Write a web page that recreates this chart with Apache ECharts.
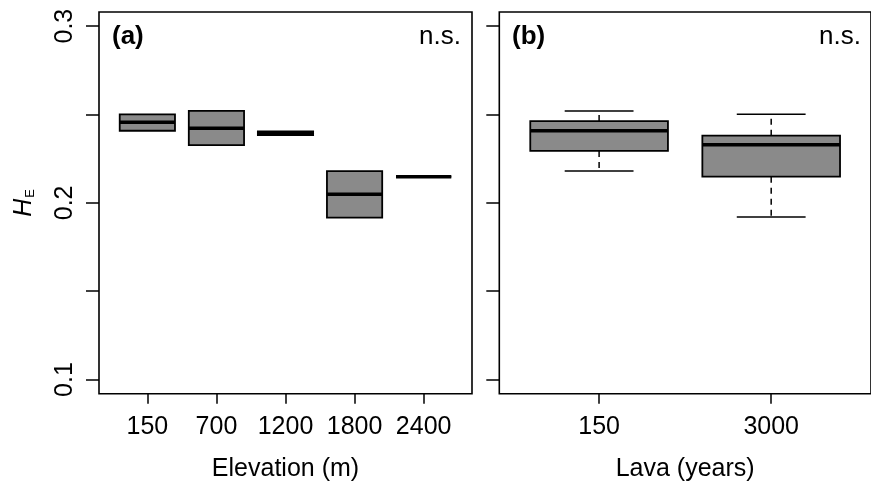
<!DOCTYPE html>
<html>
<head>
<meta charset="utf-8">
<script src="https://cdn.jsdelivr.net/npm/echarts@6/dist/echarts.min.js"></script>
<style>html,body{margin:0;padding:0;background:#fff}#c{width:871px;height:489px}</style>
</head>
<body>
<div id="c"></div>
<script>
// ---- data ----
const yTickValues = [0.1, 0.15, 0.2, 0.25, 0.3];
const yLabelValues = [0.1, 0.2, 0.3];

const elevCats = ['150', '700', '1200', '1800', '2400'];
const elevLow  = [0.2408, 0.2327, 0.2383, 0.1916, 0.2148];
const elevQ1   = [0.2408, 0.2327, 0.2383, 0.1916, 0.2148];
const elevMed  = [0.2456, 0.2422, 0.2394, 0.2048, 0.2148];
const elevQ3   = [0.2501, 0.2520, 0.2405, 0.2180, 0.2148];
const elevHigh = [0.2501, 0.2520, 0.2405, 0.2180, 0.2148];

const lavaCats = ['150', '3000'];
const lavaLow  = [0.2180, 0.1920];
const lavaQ1   = [0.2294, 0.2148];
const lavaMed  = [0.2408, 0.2329];
const lavaQ3   = [0.2463, 0.2380];
const lavaHigh = [0.2520, 0.2501];

// ---- build ----
function rows(low, q1, med, q3, high) {
  return low.map((v, i) => [i + 1, low[i], q1[i], med[i], q3[i], high[i]]);
}

function renderBox(params, api) {
  const x = api.value(0);
  const low = api.value(1), q1 = api.value(2), med = api.value(3), q3 = api.value(4), high = api.value(5);
  const w = api.size([0.8, 0])[0];
  const sw = w / 2;
  const c = api.coord([x, med]);
  const cx = c[0];
  const yL = api.coord([x, low])[1], y1 = api.coord([x, q1])[1], yM = c[1],
        y3 = api.coord([x, q3])[1], yH = api.coord([x, high])[1];
  const children = [];
  const dash = { stroke: '#000', lineWidth: 1.5, lineDash: [6, 5] };
  const solid = { stroke: '#000', lineWidth: 1.5 };
  if (high > q3) {
    children.push({ type: 'line', shape: { x1: cx, y1: y3, x2: cx, y2: yH }, style: dash });
    children.push({ type: 'line', shape: { x1: cx - sw / 2, y1: yH, x2: cx + sw / 2, y2: yH }, style: solid });
  }
  if (low < q1) {
    children.push({ type: 'line', shape: { x1: cx, y1: y1, x2: cx, y2: yL }, style: dash });
    children.push({ type: 'line', shape: { x1: cx - sw / 2, y1: yL, x2: cx + sw / 2, y2: yL }, style: solid });
  }
  children.push({ type: 'rect', shape: { x: cx - w / 2, y: y3, width: w, height: y1 - y3 },
    style: { fill: '#8a8a8a', stroke: '#000', lineWidth: 1.8 } });
  children.push({ type: 'line', shape: { x1: cx - w / 2, y1: yM, x2: cx + w / 2, y2: yM },
    style: { stroke: '#000', lineWidth: 3.5 } });
  return { type: 'group', children };
}

const FONT = 'Liberation Sans, Arial, Helvetica, sans-serif';
const FS = 25;

function xAxisFor(idx, cats, min, max, name) {
  const vals = cats.map((c, i) => i + 1);
  return {
    type: 'value', gridIndex: idx, min: min, max: max,
    splitLine: { show: false },
    axisLine: { show: false },
    axisTick: { show: true, length: 10, lineStyle: { color: '#000', width: 1.5 }, customValues: vals },
    axisLabel: { show: true, customValues: vals, margin: 21, color: '#000', fontSize: FS, fontFamily: FONT,
      formatter: v => cats[Math.round(v) - 1] },
    name: name, nameLocation: 'middle', nameGap: 63,
    nameTextStyle: { color: '#000', fontSize: FS, fontFamily: FONT }
  };
}

function yAxisFor(idx, showLabels) {
  const ax = {
    type: 'value', gridIndex: idx, min: 0.092, max: 0.308,
    splitLine: { show: false },
    axisLine: { show: false },
    axisTick: { show: true, length: 13, lineStyle: { color: '#000', width: 1.5 }, customValues: yTickValues },
    axisLabel: { show: showLabels, customValues: yLabelValues, rotate: 90, margin: 21, color: '#000',
      fontSize: FS, fontFamily: FONT, formatter: v => v.toFixed(1) }
  };
  if (showLabels) {
    ax.name = '{h|H}{e|E}';
    ax.nameLocation = 'middle';
    ax.nameGap = 62;
    ax.nameTextStyle = {
      color: '#000', fontFamily: FONT,
      rich: {
        h: { fontSize: FS, fontStyle: 'italic', fontFamily: FONT, color: '#000', lineHeight: 25, verticalAlign: 'top' },
        e: { fontSize: 13, fontFamily: FONT, color: '#000', lineHeight: 13, padding: [20, 0, 0, 1], verticalAlign: 'bottom' }
      }
    };
  }
  return ax;
}

const chart = echarts.init(document.getElementById('c'), null, { renderer: 'canvas' });
chart.setOption({
  animation: false,
  backgroundColor: '#fff',
  grid: [
    { left: 99, top: 12, width: 373, height: 381.7, show: true, borderColor: '#000', borderWidth: 1.6, backgroundColor: 'transparent' },
    { left: 499.3, top: 12, width: 373, height: 381.7, show: true, borderColor: '#000', borderWidth: 1.6, backgroundColor: 'transparent' }
  ],
  xAxis: [
    xAxisFor(0, elevCats, 0.3, 5.7, 'Elevation (m)'),
    xAxisFor(1, lavaCats, 0.42, 2.58, 'Lava (years)')
  ],
  yAxis: [yAxisFor(0, true), yAxisFor(1, false)],
  graphic: [
    { type: 'text', x: 112, y: 37, style: { text: '(a)', font: 'bold 26px ' + FONT, fill: '#000', verticalAlign: 'middle', align: 'left' } },
    { type: 'text', x: 512, y: 37, style: { text: '(b)', font: 'bold 26px ' + FONT, fill: '#000', verticalAlign: 'middle', align: 'left' } },
    { type: 'text', x: 461, y: 37, style: { text: 'n.s.', font: '26px ' + FONT, fill: '#000', verticalAlign: 'middle', align: 'right' } },
    { type: 'text', x: 861, y: 37, style: { text: 'n.s.', font: '26px ' + FONT, fill: '#000', verticalAlign: 'middle', align: 'right' } }
  ],
  series: [
    { type: 'custom', xAxisIndex: 0, yAxisIndex: 0, renderItem: renderBox,
      encode: { x: 0, y: [1, 2, 3, 4, 5] }, data: rows(elevLow, elevQ1, elevMed, elevQ3, elevHigh) },
    { type: 'custom', xAxisIndex: 1, yAxisIndex: 1, renderItem: renderBox,
      encode: { x: 0, y: [1, 2, 3, 4, 5] }, data: rows(lavaLow, lavaQ1, lavaMed, lavaQ3, lavaHigh) }
  ]
});
</script>
</body>
</html>
